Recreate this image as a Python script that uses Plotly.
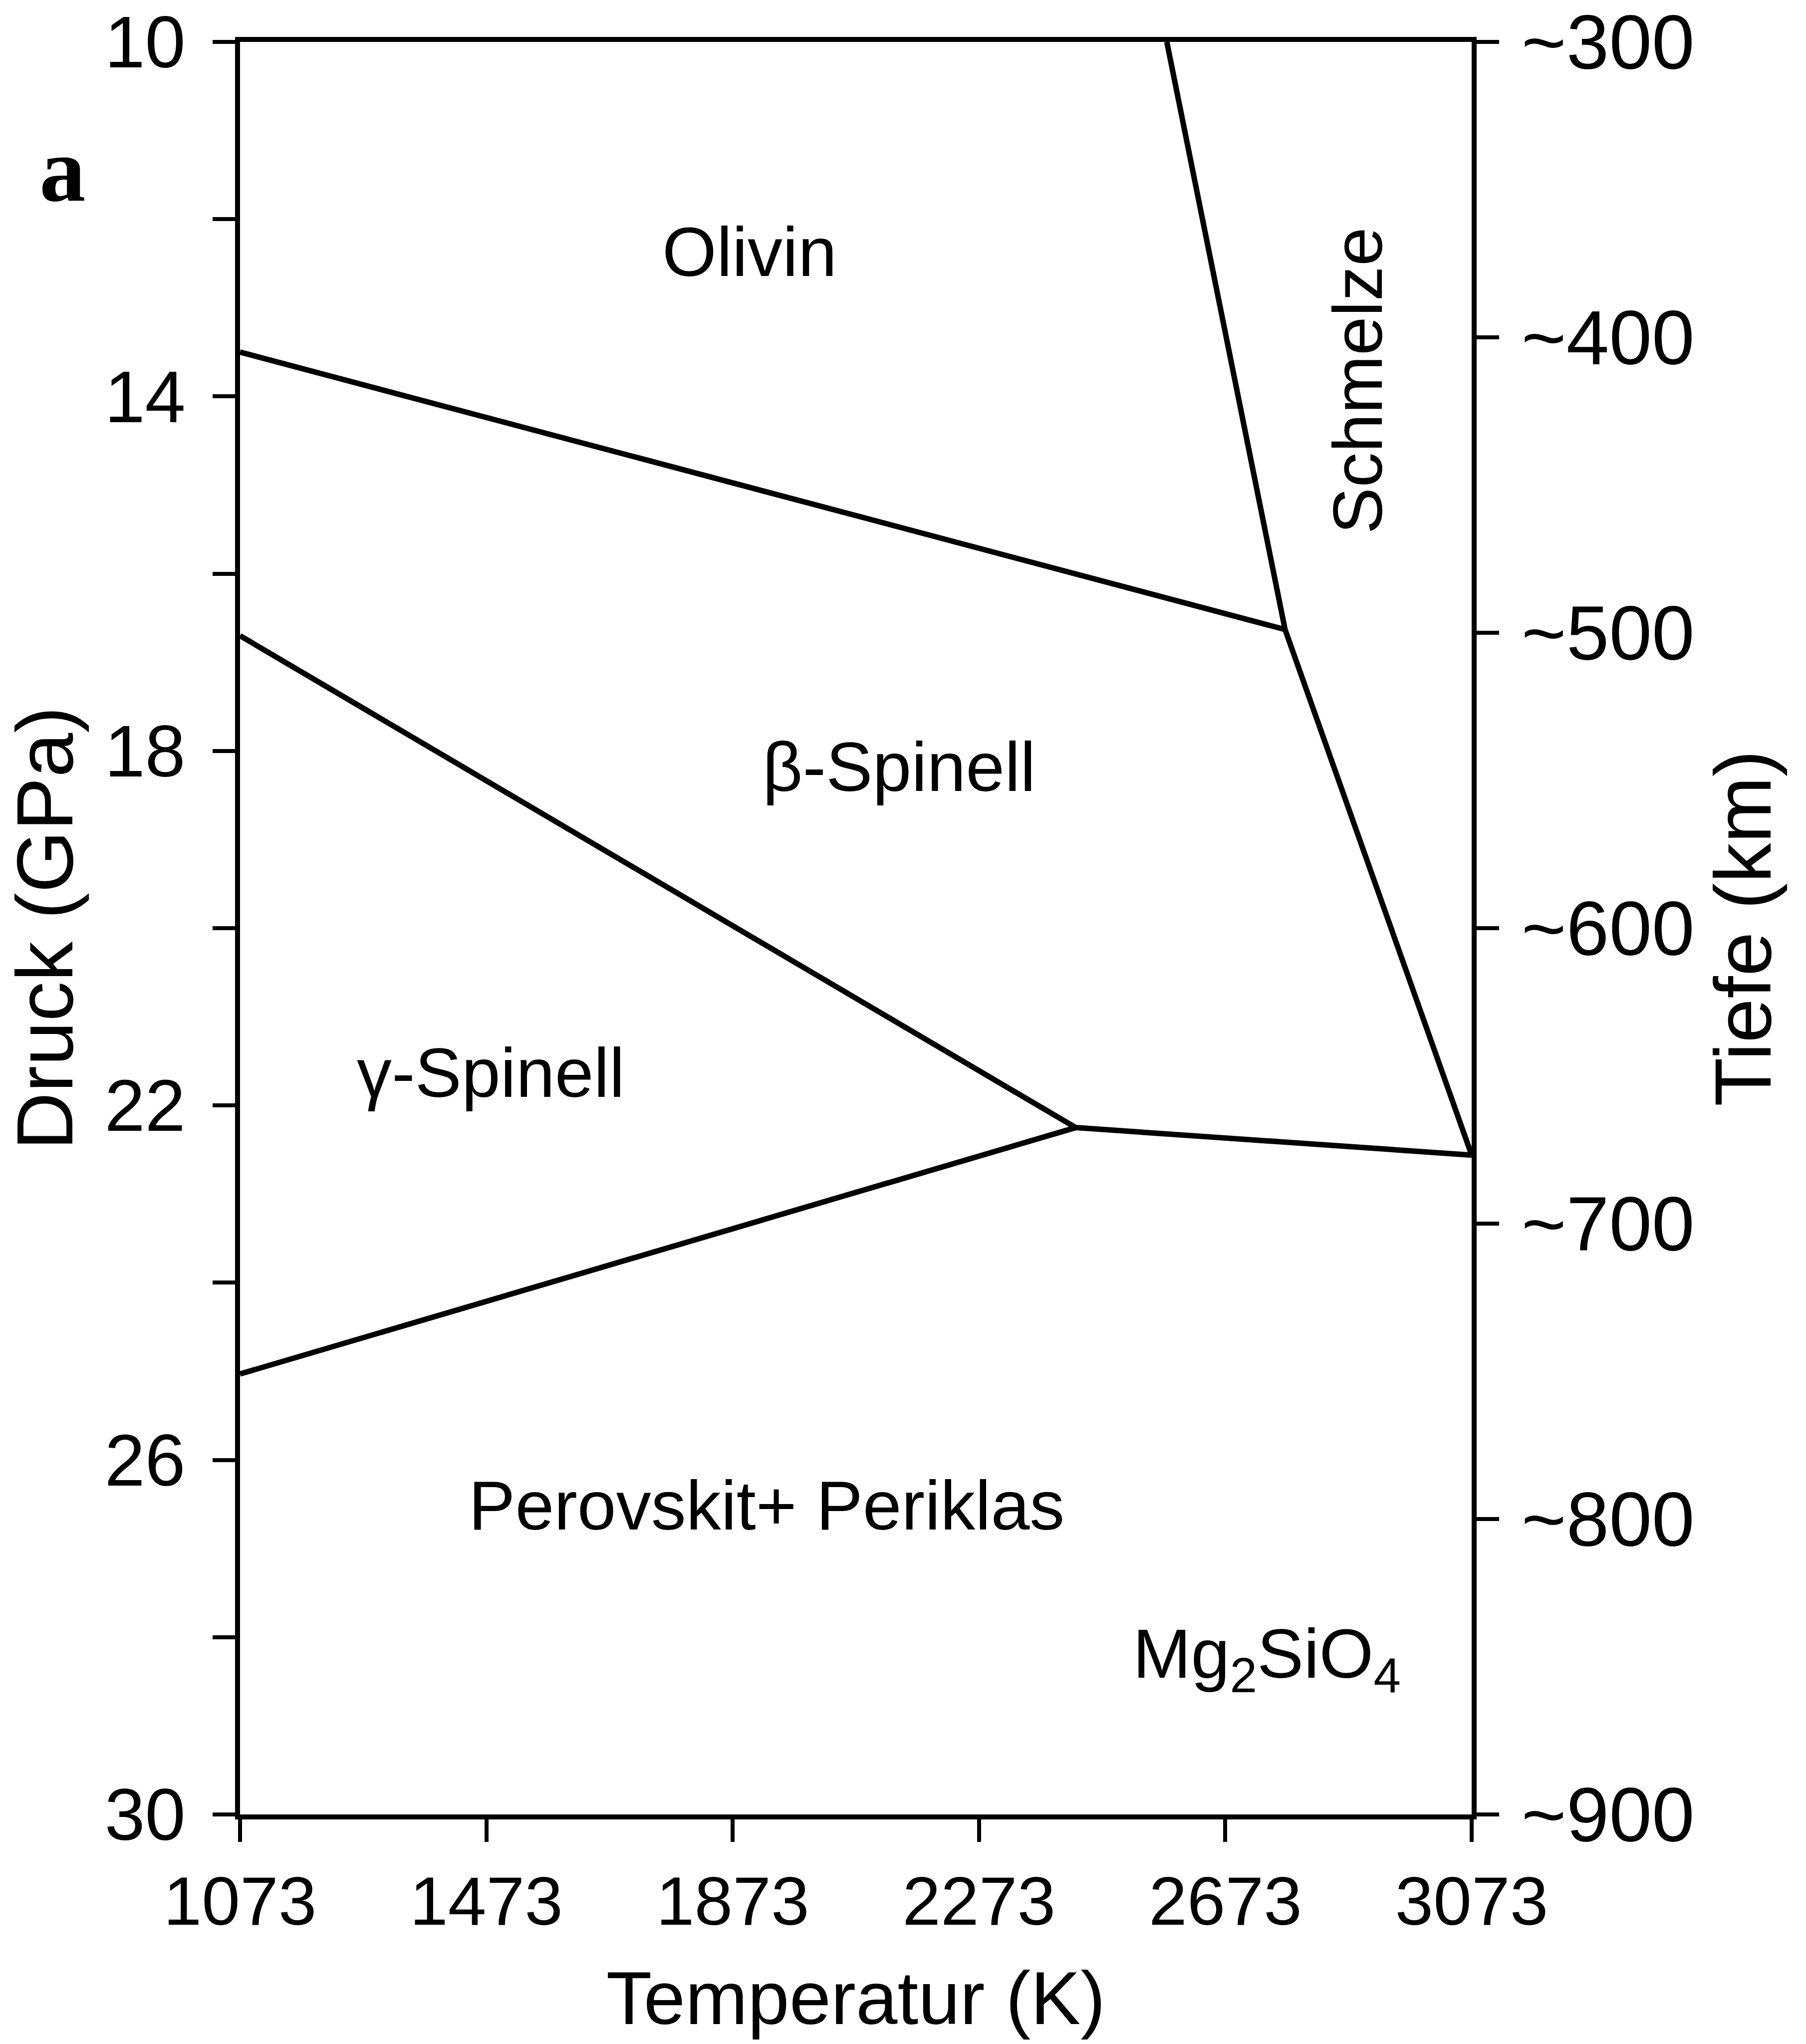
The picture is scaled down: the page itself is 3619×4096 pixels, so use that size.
import plotly.graph_objects as go

# ---- data ----
temp_ticks = [1073, 1473, 1873, 2273, 2673, 3073]
pressure_ticks = [10, 14, 18, 22, 26, 30]
pressure_minor = [12, 16, 20, 24, 28]
depth_ticks = [300, 400, 500, 600, 700, 800, 900]
depth_labels = ["~300", "~400", "~500", "~600", "~700", "~800", "~900"]

# phase boundaries: temperature (K), pressure (GPa)
olivine_beta_T = [1073, 2770]
olivine_beta_P = [13.5, 16.63]
melting_T = [2578, 2770, 3073]
melting_P = [10.0, 16.63, 22.56]
beta_gamma_T = [1073, 2430]
beta_gamma_P = [16.7, 22.25]
post_spinel_T = [2430, 3073]
post_spinel_P = [22.25, 22.56]
gamma_pv_T = [1073, 2430]
gamma_pv_P = [25.03, 22.25]

# field labels
field_names = ["Olivin", "β-Spinell", "γ-Spinell", "Perovskit+ Periklas",
               "Mg<sub>2</sub>SiO<sub>4</sub>"]
field_T = [1900, 2143, 1480, 1928, 2740]
field_P = [12.37, 18.18, 21.63, 26.51, 28.24]
melt_name = "Schmelze"
melt_T = 2888
melt_P = 13.82

FONT = "Liberation Sans, Arial, Helvetica, sans-serif"
LW = 11

fig = go.Figure()
for xs, ys in [(olivine_beta_T, olivine_beta_P), (melting_T, melting_P),
               (beta_gamma_T, beta_gamma_P), (post_spinel_T, post_spinel_P),
               (gamma_pv_T, gamma_pv_P)]:
    fig.add_trace(go.Scatter(x=xs, y=ys, mode="lines",
                             line=dict(color="black", width=LW),
                             showlegend=False, hoverinfo="skip"))

# invisible trace to activate the depth axis
fig.add_trace(go.Scatter(x=[temp_ticks[0], temp_ticks[0]],
                         y=[depth_ticks[0], depth_ticks[-1]], yaxis="y2",
                         mode="lines", line=dict(width=0, color="rgba(0,0,0,0)"),
                         showlegend=False, hoverinfo="skip"))

for name, t, p in zip(field_names, field_T, field_P):
    fig.add_annotation(x=t, y=p, text=name, showarrow=False,
                       font=dict(family=FONT, size=140, color="black"),
                       xanchor="center", yanchor="middle")
fig.add_annotation(x=melt_T, y=melt_P, text=melt_name, showarrow=False,
                   textangle=-90,
                   font=dict(family=FONT, size=140, color="black"),
                   xanchor="center", yanchor="middle")
fig.add_annotation(x=-0.144, y=0.928, xref="paper", yref="paper", text="<b>a</b>",
                   showarrow=False, xanchor="center", yanchor="middle",
                   font=dict(family="Liberation Serif, Times New Roman, serif",
                             size=185, color="black"))

axis_common = dict(showgrid=False, zeroline=False, showline=True,
                   linecolor="black", linewidth=10, ticks="outside",
                   tickcolor="black", tickwidth=8, automargin=False,
                   ticklabeloverflow="allow")

fig.update_layout(
    width=3619, height=4096,
    margin=dict(l=481, r=670, t=84, b=460, pad=0),
    paper_bgcolor="white", plot_bgcolor="white",
    xaxis=dict(range=[temp_ticks[0], temp_ticks[-1]], tickmode="array",
               tickvals=temp_ticks, ticktext=[str(v) for v in temp_ticks],
               ticklen=45, mirror=True, ticklabelstandoff=0,
               tickfont=dict(family=FONT, size=138, color="black"),
               title=dict(text="Temperatur (K)", standoff=70,
                          font=dict(family=FONT, size=150, color="black")),
               **axis_common),
    yaxis=dict(range=[pressure_ticks[-1], pressure_ticks[0]], tickmode="array",
               tickvals=pressure_ticks, ticktext=[str(v) for v in pressure_ticks],
               ticklen=45, ticklabelstandoff=25,
               tickfont=dict(family=FONT, size=146, color="black"),
               minor=dict(tickmode="array", tickvals=pressure_minor,
                          ticks="outside", ticklen=45, tickwidth=8,
                          tickcolor="black", showgrid=False),
               title=dict(text="Druck (GPa)", standoff=25,
                          font=dict(family=FONT, size=160, color="black")),
               **axis_common),
    yaxis2=dict(range=[depth_ticks[-1], depth_ticks[0]], overlaying="y",
                side="right", tickmode="array", tickvals=depth_ticks,
                ticktext=depth_labels, ticklen=45, ticklabelstandoff=14,
                tickfont=dict(family=FONT, size=154, color="black"),
                title=dict(text="Tiefe (km)", standoff=45,
                           font=dict(family=FONT, size=160, color="black")),
                **axis_common),
)

fig.write_html("out.html")
